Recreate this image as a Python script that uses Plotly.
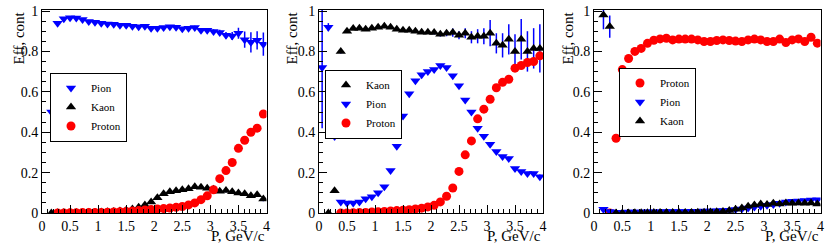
import plotly.graph_objects as go

# Bin centres (36 bins of 1/9 GeV/c between 0 and 4)
P = [0.056, 0.167, 0.278, 0.389, 0.5, 0.611, 0.722, 0.833, 0.944, 1.056, 1.167, 1.278,
     1.389, 1.5, 1.611, 1.722, 1.833, 1.944, 2.056, 2.167, 2.278, 2.389, 2.5, 2.611,
     2.722, 2.833, 2.944, 3.056, 3.167, 3.278, 3.389, 3.5, 3.611, 3.722, 3.833, 3.944]

# ---- Panel 1 (pion selection) ----
pion1 = [None, 0.50, 0.94, 0.962, 0.967, 0.966, 0.958, 0.948, 0.944, 0.94, 0.936, 0.935,
         0.93, 0.93, 0.925, 0.922, 0.925, 0.915, 0.915, 0.918, 0.922, 0.92, 0.912, 0.915,
         0.918, 0.905, 0.905, 0.898, 0.893, 0.88, 0.876, 0.89, 0.858, 0.845, 0.855, 0.836]
pion1_err = [0, 0.01, 0.005, 0.005, 0.005, 0.005, 0.005, 0.005, 0.005, 0.005, 0.005, 0.005,
             0.005, 0.005, 0.005, 0.005, 0.005, 0.005, 0.005, 0.006, 0.006, 0.007, 0.008, 0.008,
             0.009, 0.01, 0.011, 0.012, 0.014, 0.016, 0.02, 0.027, 0.04, 0.05, 0.045, 0.058]
kaon1 = [None, 0.0, 0.001, 0.002, 0.002, 0.003, 0.003, 0.004, 0.004, 0.005, 0.006, 0.008,
         0.01, 0.014, 0.02, 0.028, 0.04, 0.055, 0.075, 0.095, 0.105, 0.11, 0.115, 0.12,
         0.13, 0.128, 0.122, 0.118, 0.108, 0.112, 0.105, 0.099, 0.095, 0.085, 0.09, 0.069]
kaon1_err = [0, 0.002, 0.001, 0.001, 0.001, 0.001, 0.001, 0.001, 0.001, 0.001, 0.001, 0.002,
             0.002, 0.002, 0.003, 0.003, 0.004, 0.004, 0.005, 0.005, 0.005, 0.006, 0.006, 0.006,
             0.007, 0.007, 0.008, 0.008, 0.008, 0.009, 0.009, 0.01, 0.01, 0.01, 0.011, 0.011]
proton1 = [None, None, 0.0, 0.0, 0.001, 0.001, 0.002, 0.002, 0.003, 0.003, 0.004, 0.005,
           0.006, 0.008, 0.01, 0.012, 0.015, 0.017, 0.02, 0.022, 0.025, 0.028, 0.032, 0.04,
           0.05, 0.066, 0.085, 0.115, 0.17, 0.21, 0.25, 0.32, 0.36, 0.40, 0.42, 0.49]
proton1_err = [0, 0, 0.001, 0.001, 0.001, 0.001, 0.001, 0.001, 0.001, 0.001, 0.001, 0.001,
               0.001, 0.001, 0.002, 0.002, 0.002, 0.002, 0.002, 0.002, 0.002, 0.003, 0.003, 0.003,
               0.004, 0.004, 0.005, 0.006, 0.007, 0.008, 0.009, 0.01, 0.012, 0.013, 0.015, 0.02]

# ---- Panel 2 (kaon selection) ----
kaon2 = [None, 0.0, 0.11, 0.80, 0.90, 0.913, 0.915, 0.91, 0.915, 0.92, 0.925, 0.92,
         0.91, 0.905, 0.905, 0.90, 0.895, 0.895, 0.893, 0.885, 0.89, 0.893, 0.88, 0.89,
         0.87, 0.875, 0.875, 0.89, 0.84, 0.83, 0.86, 0.80, 0.86, 0.80, 0.815, 0.815]
kaon2_err = [0, 0.005, 0.01, 0.01, 0.006, 0.006, 0.006, 0.006, 0.006, 0.006, 0.006, 0.006,
             0.006, 0.007, 0.007, 0.007, 0.008, 0.008, 0.009, 0.012, 0.015, 0.02, 0.02, 0.025,
             0.03, 0.035, 0.04, 0.065, 0.05, 0.06, 0.075, 0.085, 0.1, 0.1, 0.1, 0.12]
pion2 = [0.72, 0.92, 0.38, 0.055, 0.05, 0.05, 0.055, 0.07, 0.08, 0.10, 0.13, 0.21,
         0.33, 0.48, 0.59, 0.655, 0.685, 0.70, 0.71, 0.73, 0.72, 0.68, 0.63, 0.56,
         0.50, 0.42, 0.38, 0.34, 0.305, 0.28, 0.27, 0.22, 0.205, 0.195, 0.195, 0.18]
pion2_err = [0.30, 0.02, 0.02, 0.004, 0.004, 0.004, 0.004, 0.004, 0.005, 0.005, 0.005, 0.006,
             0.006, 0.007, 0.007, 0.007, 0.007, 0.007, 0.007, 0.007, 0.007, 0.007, 0.007, 0.007,
             0.007, 0.007, 0.007, 0.007, 0.007, 0.007, 0.008, 0.008, 0.008, 0.009, 0.009, 0.01]
proton2 = [None, None, None, 0.0, 0.0, 0.001, 0.002, 0.003, 0.005, 0.006, 0.008, 0.01,
           0.012, 0.014, 0.016, 0.02, 0.024, 0.03, 0.038, 0.055, 0.083, 0.124, 0.206, 0.288,
           0.357, 0.466, 0.514, 0.563, 0.62, 0.647, 0.662, 0.717, 0.73, 0.745, 0.75, 0.778]
proton2_err = [0, 0, 0, 0.001, 0.001, 0.001, 0.001, 0.001, 0.001, 0.001, 0.001, 0.001,
               0.001, 0.001, 0.002, 0.002, 0.002, 0.002, 0.003, 0.003, 0.004, 0.005, 0.006, 0.007,
               0.008, 0.009, 0.01, 0.01, 0.011, 0.012, 0.013, 0.014, 0.015, 0.016, 0.017, 0.018]

# ---- Panel 3 (proton selection) ----
proton3 = [None, None, 0.0, 0.37, 0.71, 0.765, 0.80, 0.815, 0.84, 0.855, 0.862, 0.865,
           0.857, 0.861, 0.861, 0.861, 0.857, 0.849, 0.849, 0.854, 0.857, 0.854, 0.851, 0.849,
           0.857, 0.861, 0.857, 0.849, 0.849, 0.861, 0.844, 0.857, 0.862, 0.849, 0.87, 0.841]
proton3_err = [0, 0, 0.005, 0.01, 0.01, 0.008, 0.007, 0.007, 0.007, 0.007, 0.007, 0.007,
               0.007, 0.007, 0.007, 0.007, 0.007, 0.007, 0.008, 0.008, 0.008, 0.008, 0.009, 0.009,
               0.009, 0.01, 0.01, 0.01, 0.011, 0.011, 0.012, 0.012, 0.013, 0.014, 0.015, 0.016]
pion3 = [None, 0.018, 0.008, 0.004, 0.004, 0.005, 0.005, 0.005, 0.006, 0.006, 0.006, 0.007,
         0.007, 0.008, 0.008, 0.009, 0.009, 0.01, 0.01, 0.011, 0.012, 0.014, 0.017, 0.02,
         0.025, 0.03, 0.034, 0.038, 0.042, 0.048, 0.055, 0.058, 0.06, 0.062, 0.064, 0.065]
pion3_err = [0, 0.004, 0.003, 0.002, 0.002, 0.002, 0.002, 0.002, 0.002, 0.002, 0.002, 0.002,
             0.002, 0.002, 0.002, 0.002, 0.002, 0.002, 0.002, 0.002, 0.003, 0.003, 0.003, 0.003,
             0.004, 0.004, 0.004, 0.005, 0.005, 0.005, 0.006, 0.006, 0.007, 0.007, 0.008, 0.008]
kaon3 = [None, 0.98, 0.923, 0.0, 0.0, 0.0, 0.001, 0.001, 0.001, 0.002, 0.002, 0.002,
         0.002, 0.003, 0.003, 0.003, 0.004, 0.004, 0.005, 0.006, 0.008, 0.012, 0.018, 0.025,
         0.033, 0.04, 0.045, 0.042, 0.048, 0.045, 0.05, 0.048, 0.05, 0.048, 0.05, 0.045]
kaon3_err = [0, 0.07, 0.055, 0.001, 0.001, 0.001, 0.001, 0.001, 0.001, 0.001, 0.001, 0.001,
             0.001, 0.001, 0.001, 0.001, 0.001, 0.002, 0.002, 0.002, 0.002, 0.003, 0.003, 0.003,
             0.004, 0.004, 0.004, 0.005, 0.005, 0.005, 0.005, 0.006, 0.006, 0.006, 0.006, 0.007]

X_TICKS = [0, 0.5, 1, 1.5, 2, 2.5, 3, 3.5, 4]
X_TICK_TEXT = ["0", "0.5", "1", "1.5", "2", "2.5", "3", "3.5", "4"]
Y_TICKS = [0, 0.2, 0.4, 0.6, 0.8, 1]
Y_TICK_TEXT = ["0", "0.2", "0.4", "0.6", "0.8", "1"]

STYLE = {
    "Pion": dict(symbol="triangle-down", color="#0000ff", err="#0000ff"),
    "Kaon": dict(symbol="triangle-up", color="#000000", err="#0000ff"),
    "Proton": dict(symbol="circle", color="#ff0000", err="#ff0000"),
}

panels = [
    [("Pion", pion1, pion1_err), ("Kaon", kaon1, kaon1_err), ("Proton", proton1, proton1_err)],
    [("Kaon", kaon2, kaon2_err), ("Pion", pion2, pion2_err), ("Proton", proton2, proton2_err)],
    [("Proton", proton3, proton3_err), ("Pion", pion3, pion3_err), ("Kaon", kaon3, kaon3_err)],
]

W, H = 830, 251
x_px = [(42, 266.5), (319, 543), (594, 820.5)]
top_px, bot_px = 10, 213
legend_px = [(50, 107), (325, 104), (619, 102)]   # left edge, vertical centre
ytitle_px = [19, 292, 568]

FONT = "Liberation Serif"
fig = go.Figure()
legend_names = ["legend", "legend2", "legend3"]

for k, series in enumerate(panels):
    xa = "x" if k == 0 else f"x{k+1}"
    ya = "y" if k == 0 else f"y{k+1}"
    for name, vals, err in series:
        st = STYLE[name]
        fig.add_trace(go.Scatter(
            x=P, y=vals, mode="markers", name=name,
            xaxis=xa, yaxis=ya, legend=legend_names[k],
            marker=dict(symbol=st["symbol"], color=st["color"], size=9, line=dict(width=0)),
            error_y=dict(type="data", array=err, color=st["err"], thickness=1.5, width=0),
            cliponaxis=True,
        ))

layout = dict(
    template="none",
    width=W, height=H, margin=dict(l=0, r=0, t=0, b=0, pad=0, autoexpand=False),
    paper_bgcolor="white", plot_bgcolor="white",
    font=dict(family=FONT, size=14, color="black"),
    showlegend=True,
)

axis_common = dict(showgrid=False, zeroline=False, showline=True, linecolor="black",
                   linewidth=1, mirror=True, ticks="inside", ticklen=8, tickcolor="black",
                   tickwidth=1, automargin=False,
                   tickfont=dict(family=FONT, size=14, color="black"))
annotations = []
for k in range(3):
    sx = "" if k == 0 else str(k + 1)
    x0, x1 = x_px[k]
    layout["xaxis" + sx] = dict(
        axis_common, domain=[x0 / W, x1 / W], range=[0, 4], anchor="y" + sx,
        tickvals=X_TICKS, ticktext=X_TICK_TEXT,
        minor=dict(ticks="inside", ticklen=4, dtick=0.1, tickcolor="black", showgrid=False),
    )
    layout["yaxis" + sx] = dict(
        axis_common, domain=[1 - bot_px / H, 1 - top_px / H], range=[0, 1.005],
        anchor="x" + sx, tickvals=Y_TICKS, ticktext=Y_TICK_TEXT,
        minor=dict(ticks="inside", ticklen=4, dtick=0.05, tickcolor="black", showgrid=False),
    )
    lx, ly = legend_px[k]
    layout[legend_names[k]] = dict(
        x=lx / W, y=1 - ly / H, xanchor="left", yanchor="middle",
        bgcolor="white", bordercolor="black", borderwidth=1,
        font=dict(family=FONT, size=11, color="black"),
        itemwidth=30, tracegroupgap=0,
    )
    annotations.append(dict(
        text="Eff, cont", textangle=-90, xref="paper", yref="paper",
        x=ytitle_px[k] / W, y=1 - top_px / H, xanchor="center", yanchor="top",
        showarrow=False, font=dict(family=FONT, size=15, color="black"),
    ))
    annotations.append(dict(
        text="P, GeV/c", xref="paper", yref="paper",
        x=x1 / W, y=1 - 236 / H, xanchor="right", yanchor="middle",
        showarrow=False, font=dict(family=FONT, size=15, color="black"),
    ))
layout["annotations"] = annotations
fig.update_layout(**layout)
fig.write_html("out.html", config={"displayModeBar": False},
               post_script="document.body.style.margin='0px';")
